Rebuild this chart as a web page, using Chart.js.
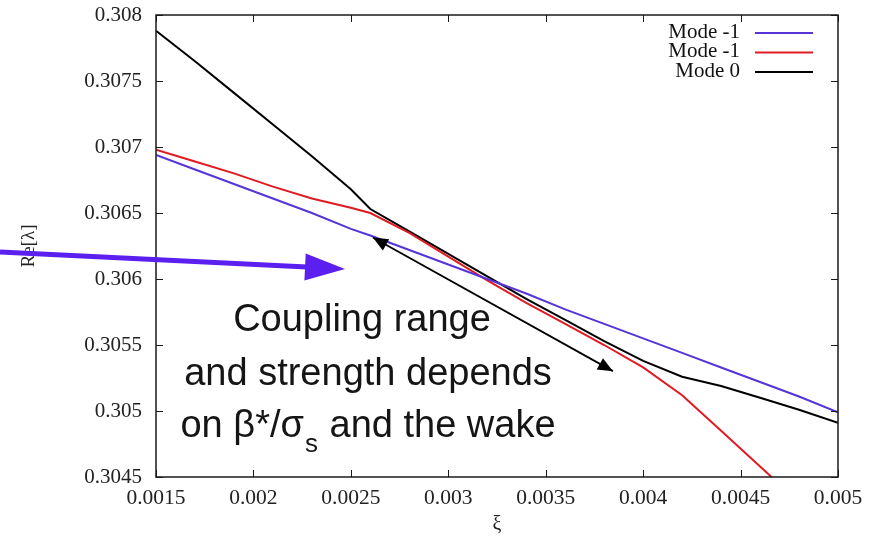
<!DOCTYPE html>
<html>
<head>
<meta charset="utf-8">
<script src="https://cdn.jsdelivr.net/npm/chart.js@4/dist/chart.umd.min.js"></script>
<style>
  html, body { margin: 0; padding: 0; background: #ffffff; }
  canvas { display: block; }
</style>
</head>
<body>
<canvas id="c" width="875" height="540"></canvas>
<script>
// ---- data ----
const xi = [0.0015, 0.0017, 0.0019, 0.0021, 0.0023, 0.0025, 0.0026, 0.0028, 0.0030, 0.0032,
            0.0034, 0.0036, 0.0038, 0.0040, 0.0042, 0.0044, 0.0046, 0.0048, 0.0050];
const modeMinus1Blue = [0.30694, 0.30683, 0.30672, 0.30661, 0.30650, 0.30638, 0.30633, 0.30622, 0.30611, 0.30600,
                        0.30589, 0.30577, 0.30566, 0.30555, 0.30544, 0.30533, 0.30522, 0.30511, 0.30499];
const modeMinus1Red = [0.30698, 0.30689, 0.30680, 0.30670, 0.30661, 0.30654, 0.30650, 0.30635, 0.30617, 0.30599,
                       0.30582, 0.30566, 0.30550, 0.30533, 0.30512, 0.30485, 0.30458, 0.30431, null];
const mode0 = [0.30788, 0.30765, 0.30741, 0.30717, 0.30693, 0.30668, 0.30653, 0.30636, 0.30619, 0.30602,
               0.30585, 0.30569, 0.30553, 0.30538, 0.30526, 0.30519, 0.30510, 0.30501, 0.30491];
const seriesLabels = ['Mode -1', 'Mode -1', 'Mode 0'];

const xTicks = [0.0015, 0.002, 0.0025, 0.003, 0.0035, 0.004, 0.0045, 0.005];
const xTickLabels = ['0.0015', '0.002', '0.0025', '0.003', '0.0035', '0.004', '0.0045', '0.005'];
const yTicks = [0.3045, 0.305, 0.3055, 0.306, 0.3065, 0.307, 0.3075, 0.308];
const yTickLabels = ['0.3045', '0.305', '0.3055', '0.306', '0.3065', '0.307', '0.3075', '0.308'];

const annotationLines = ['Coupling range', 'and strength depends'];
const couplingArrow = { from: [0.002613, 0.306314], to: [0.003845, 0.305302] };

// ---- styles ----
const COL_BLUE = '#5634d8';
const COL_RED = '#e01a22';
const COL_BLACK = '#000000';
const SERIF = '"Liberation Serif", "Times New Roman", serif';
const SANS = '"Liberation Sans", Arial, sans-serif';

function toPts(ys) { return xi.map((x, i) => ({ x: x, y: ys[i] })); }

const overlay = {
  id: 'overlay',
  afterDatasetsDraw(chart) {
    const { ctx, chartArea: a, scales: { x, y } } = chart;
    ctx.save();
    // frame
    ctx.strokeStyle = '#1a1a1a';
    ctx.lineWidth = 1.5;
    ctx.strokeRect(a.left, a.top, a.right - a.left, a.bottom - a.top);
    // inner ticks (mirrored)
    ctx.lineWidth = 1;
    const L = 7;
    ctx.beginPath();
    xTicks.forEach(v => {
      const px = Math.round(x.getPixelForValue(v)) + 0.5;
      ctx.moveTo(px, a.bottom); ctx.lineTo(px, a.bottom - L);
      ctx.moveTo(px, a.top); ctx.lineTo(px, a.top + L);
    });
    yTicks.forEach(v => {
      const py = Math.round(y.getPixelForValue(v)) + 0.5;
      ctx.moveTo(a.left, py); ctx.lineTo(a.left + L, py);
      ctx.moveTo(a.right, py); ctx.lineTo(a.right - L, py);
    });
    ctx.stroke();

    // legend (gnuplot style, text right-aligned, sample to the right)
    ctx.font = '21px ' + SERIF;
    ctx.textAlign = 'right';
    ctx.textBaseline = 'middle';
    chart.data.datasets.forEach((ds, i) => {
      const yy = a.top + 17 + i * 19.5;
      ctx.fillStyle = '#111';
      ctx.fillText(ds.label, a.right - 98, yy);
      ctx.strokeStyle = ds.borderColor;
      ctx.lineWidth = 2;
      ctx.beginPath();
      ctx.moveTo(a.right - 83, yy + 1);
      ctx.lineTo(a.right - 25, yy + 1);
      ctx.stroke();
    });

    // double-headed black arrow in data coordinates
    const p1 = [x.getPixelForValue(couplingArrow.from[0]), y.getPixelForValue(couplingArrow.from[1])];
    const p2 = [x.getPixelForValue(couplingArrow.to[0]), y.getPixelForValue(couplingArrow.to[1])];
    ctx.strokeStyle = '#000';
    ctx.fillStyle = '#000';
    ctx.lineWidth = 1.8;
    ctx.beginPath(); ctx.moveTo(p1[0], p1[1]); ctx.lineTo(p2[0], p2[1]); ctx.stroke();
    const head = (tip, back, len, hw) => {
      const dx = tip[0] - back[0], dy = tip[1] - back[1];
      const d = Math.hypot(dx, dy), ux = dx / d, uy = dy / d;
      const bx = tip[0] - ux * len, by = tip[1] - uy * len;
      ctx.beginPath();
      ctx.moveTo(tip[0], tip[1]);
      ctx.lineTo(bx - uy * hw, by + ux * hw);
      ctx.lineTo(bx + uy * hw, by - ux * hw);
      ctx.closePath();
      ctx.fill();
    };
    head(p1, p2, 15, 6.5);
    head(p2, p1, 15, 6.5);

    // big purple arrow (slide overlay)
    ctx.strokeStyle = '#5b1ff0';
    ctx.fillStyle = '#5b1ff0';
    ctx.lineWidth = 5;
    const t0 = [0, 252], t1 = [345, 269];
    ctx.beginPath(); ctx.moveTo(t0[0], t0[1]); ctx.lineTo(t1[0] - 38, t1[1] - 1.9); ctx.stroke();
    head(t1, t0, 40, 13.5);

    // annotation text
    ctx.fillStyle = '#151515';
    ctx.textBaseline = 'alphabetic';
    ctx.textAlign = 'center';
    ctx.font = '38px ' + SANS;
    ctx.fillText(annotationLines[0], 362, 331);
    ctx.fillText(annotationLines[1], 368, 385);
    ctx.textAlign = 'left';
    const partA = 'on \u03B2*/\u03C3', partB = 's', partC = ' and the wake';
    const wA = ctx.measureText(partA).width;
    const wC = ctx.measureText(partC).width;
    ctx.font = '26px ' + SANS;
    const wB = ctx.measureText(partB).width;
    const total = wA + wB + 2 + wC;
    let cx = 368 - total / 2;
    ctx.font = '38px ' + SANS;
    ctx.fillText(partA, cx, 437);
    cx += wA + 1;
    ctx.font = '26px ' + SANS;
    ctx.fillText(partB, cx, 452);
    cx += wB + 1;
    ctx.font = '38px ' + SANS;
    ctx.fillText(partC, cx, 437);
    ctx.restore();
  }
};

new Chart(document.getElementById('c'), {
  type: 'line',
  data: {
    datasets: [
      { label: seriesLabels[0], data: toPts(modeMinus1Blue), borderColor: COL_BLUE, borderWidth: 2, pointRadius: 0, tension: 0, fill: false },
      { label: seriesLabels[1], data: toPts(modeMinus1Red), borderColor: COL_RED, borderWidth: 2, pointRadius: 0, tension: 0, fill: false },
      { label: seriesLabels[2], data: toPts(mode0), borderColor: COL_BLACK, borderWidth: 2, pointRadius: 0, tension: 0, fill: false }
    ]
  },
  options: {
    responsive: false,
    animation: false,
    devicePixelRatio: 1,
    layout: { padding: { left: 0, right: 37, top: 15, bottom: 0 } },
    plugins: { legend: { display: false }, tooltip: { enabled: false } },
    scales: {
      x: {
        type: 'linear', min: 0.0015, max: 0.005,
        afterBuildTicks: s => { s.ticks = xTicks.map(v => ({ value: v })); },
        afterFit: s => { s.height = 63; s.paddingLeft = 0; s.paddingRight = 0; },
        grid: { display: false, drawTicks: false },
        border: { display: false },
        ticks: { padding: 8, color: '#222', font: { family: SERIF, size: 21.5 }, maxRotation: 0, autoSkip: false,
                 callback: (v, i) => xTickLabels[i] },
        title: { display: true, text: '\u03BE', color: '#222', font: { family: SERIF, size: 20 }, padding: { top: 0, bottom: 3 } }
      },
      y: {
        type: 'linear', min: 0.3045, max: 0.308,
        afterBuildTicks: s => { s.ticks = yTicks.map(v => ({ value: v })); },
        afterFit: s => { s.width = 156; s.paddingTop = 0; s.paddingBottom = 0; },
        grid: { display: false, drawTicks: false },
        border: { display: false },
        ticks: { padding: 14, color: '#222', font: { family: SERIF, size: 21 }, autoSkip: false,
                 callback: (v, i) => yTickLabels[i] },
        title: { display: true, text: 'Re[\u03BB]', color: '#222', font: { family: SERIF, size: 19 }, padding: { top: 18, bottom: 0 } }
      }
    }
  },
  plugins: [overlay]
});
</script>
</body>
</html>
